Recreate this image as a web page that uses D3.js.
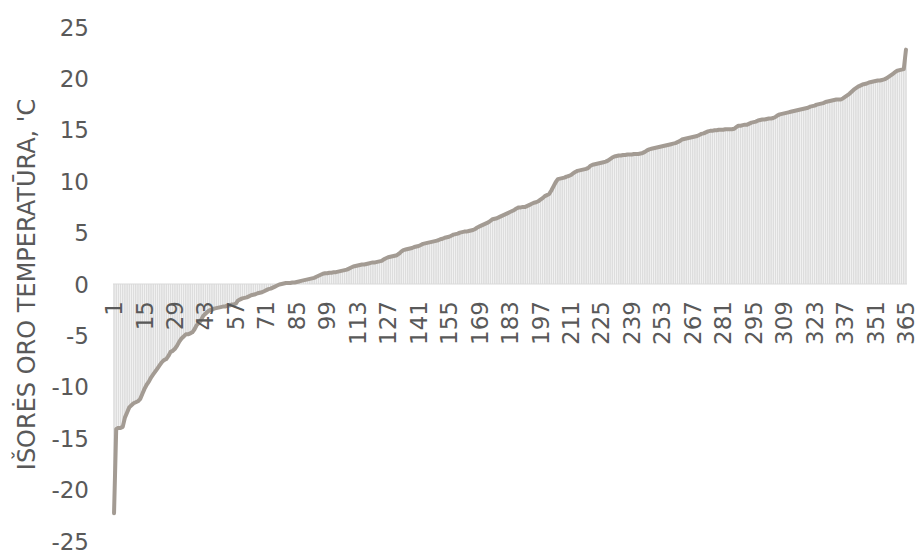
<!DOCTYPE html>
<html>
<head>
<meta charset="utf-8">
<script src="https://cdn.jsdelivr.net/npm/d3@7"></script>
<style>
  html, body { margin: 0; padding: 0; background: #fff; }
  svg { display: block; }
</style>
</head>
<body>
<svg id="chart" width="919" height="554"></svg>
<script>
// Sorted daily outdoor temperatures (rank 1..365)
const tempsPart1 = [
  -22.3,-14.1,-14.0,-14.0,-13.9,-13.0,-12.5,-12.0,-11.8,-11.6,
  -11.5,-11.4,-11.2,-10.7,-10.2,-9.8,-9.5,-9.1,-8.8,-8.5,
  -8.2,-7.9,-7.6,-7.4,-7.3,-7.0,-6.6,-6.5,-6.3,-6.0,
  -5.6,-5.3,-5.1,-4.9,-4.9,-4.8,-4.7,-4.4,-4.0,-3.8,
  -3.5,-3.1,-2.9,-2.7,-2.55,-2.5,-2.4,-2.35,-2.3,-2.25,
  -2.2,-2.2,-2.1,-2.1,-2.0,-2.0,-1.9,-1.6,-1.5,-1.4,
  -1.35,-1.3,-1.2,-1.1,-1.05,-1.0,-0.9,-0.85,-0.8,-0.7,
  -0.6,-0.5,-0.45,-0.35,-0.25,-0.15,-0.05,0.0,0.05,0.1,
  0.1,0.1,0.15,0.15,0.2,0.25,0.3,0.35,0.4,0.45,
  0.5
];
const tempsPart2 = [
  0.55,0.6,0.7,0.8,0.9,1.0,1.05,1.05,1.1,1.1,
  1.15,1.15,1.2,1.25,1.3,1.35,1.4,1.5,1.6,1.7,
  1.75,1.8,1.85,1.9,1.9,1.95,2.0,2.05,2.1,2.1,
  2.15,2.2,2.25,2.4,2.5,2.6,2.65,2.7,2.75,2.8,
  2.95,3.15,3.3,3.35,3.4,3.45,3.5,3.6,3.65,3.7,
  3.8,3.9,3.95,4.0,4.05,4.1,4.15,4.2,4.25,4.35,
  4.4,4.5,4.55,4.6,4.7,4.8,4.85,4.9,5.0,5.05,
  5.1,5.1,5.15,5.2,5.25,5.35,5.5,5.6,5.7,5.8,
  5.9,6.0,6.15,6.3,6.35,6.4,6.5,6.6,6.7,6.8,
  6.9
];
const tempsPart3 = [
  7.0,7.1,7.2,7.35,7.45,7.45,7.5,7.5,7.6,7.7,
  7.8,7.9,7.95,8.05,8.2,8.35,8.55,8.65,8.75,9.1,
  9.5,9.9,10.2,10.25,10.3,10.35,10.45,10.5,10.6,10.75,
  10.9,11.0,11.05,11.1,11.15,11.2,11.3,11.5,11.6,11.65,
  11.7,11.75,11.8,11.85,11.9,12.0,12.15,12.3,12.4,12.45,
  12.5,12.5,12.55,12.55,12.6,12.6,12.6,12.65,12.65,12.65,
  12.7,12.75,12.85,13.0,13.1,13.15,13.2,13.25,13.3,13.35,
  13.4,13.45,13.5,13.55,13.6,13.65,13.7,13.8,13.9,14.05,
  14.1,14.15,14.2,14.25,14.3,14.35,14.4,14.5,14.6,14.65,
  14.75
];
const tempsPart4 = [
  14.85,14.9,14.9,14.95,14.95,15.0,15.0,15.0,15.05,15.05,
  15.05,15.05,15.1,15.25,15.4,15.4,15.45,15.5,15.5,15.6,
  15.7,15.75,15.8,15.9,15.95,16.0,16.0,16.05,16.1,16.1,
  16.15,16.25,16.4,16.5,16.55,16.6,16.65,16.7,16.75,16.8,
  16.85,16.9,16.95,17.0,17.05,17.1,17.15,17.25,17.3,17.35,
  17.45,17.5,17.55,17.6,17.7,17.75,17.8,17.85,17.9,17.95,
  17.95,17.95,18.05,18.2,18.35,18.5,18.7,18.9,19.05,19.2,
  19.3,19.4,19.45,19.5,19.6,19.65,19.7,19.75,19.8,19.8,
  19.85,19.9,20.0,20.15,20.3,20.45,20.6,20.75,20.8,20.85,
  20.9,22.8
];
const xTickLabels = [1,15,29,43,57,71,85,99,113,127,141,155,169,183,197,211,225,239,253,267,281,295,309,323,337,351,365];
const yTickValues = [25,20,15,10,5,0,-5,-10,-15,-20,-25];
const yTitle = "IŠORĖS ORO TEMPERATŪRA, 'C";

const temps = [].concat(tempsPart1, tempsPart2, tempsPart3, tempsPart4);
const days = temps.map((_, i) => i + 1);
const data = days.map((d, i) => ({ day: d, t: temps[i] }));

const svg = d3.select("#chart");
const font = "'DejaVu Sans', Verdana, sans-serif";
const textColor = "#595959";

const x = d3.scaleBand().domain(days).range([113, 907]).paddingInner(0.25).paddingOuter(0.1);
const y = d3.scaleLinear().domain([-25, 25]).range([541, 27]);

// bars
svg.append("g").selectAll("rect").data(data).join("rect")
  .attr("x", d => x(d.day))
  .attr("width", x.bandwidth())
  .attr("y", d => Math.min(y(d.t), y(0)))
  .attr("height", d => Math.abs(y(d.t) - y(0)))
  .attr("fill", "#dddddd");

// zero axis line
svg.append("line")
  .attr("x1", 113).attr("x2", 907)
  .attr("y1", y(0)).attr("y2", y(0))
  .attr("stroke", "#d9d9d9").attr("stroke-width", 1.2);

// line
const line = d3.line().x(d => x(d.day) + x.bandwidth() / 2).y(d => y(d.t));
svg.append("path").datum(data)
  .attr("d", line)
  .attr("fill", "none")
  .attr("stroke", "#a39b93")
  .attr("stroke-width", 4)
  .attr("stroke-linejoin", "round")
  .attr("stroke-linecap", "round");

// y axis
const yAxis = d3.axisLeft(y).tickValues(yTickValues).tickSize(0).tickPadding(0).tickFormat(d => String(d));
const gy = svg.append("g").attr("transform", "translate(89,0)").call(yAxis);
gy.select(".domain").remove();
gy.selectAll("text").attr("font-family", font).attr("font-size", 23).attr("fill", textColor).attr("dy", "0.35em");

// x axis (rotated labels)
const xAxis = d3.axisBottom(x).tickValues(xTickLabels).tickSize(0).tickPadding(0);
const gx = svg.append("g").attr("transform", `translate(0,${y(0)})`).call(xAxis);
gx.select(".domain").remove();
gx.selectAll("text")
  .attr("font-family", font).attr("font-size", 23).attr("fill", textColor)
  .attr("text-anchor", "end")
  .attr("transform", "rotate(-90)")
  .attr("x", -17).attr("y", 0).attr("dy", "0.35em");

// y title
svg.append("text")
  .attr("transform", `translate(27,${(93 + 476) / 2}) rotate(-90)`)
  .attr("text-anchor", "middle")
  .attr("dy", "0.35em")
  .attr("font-family", font).attr("font-size", 24).attr("fill", textColor)
  .text(yTitle);
</script>
</body>
</html>
